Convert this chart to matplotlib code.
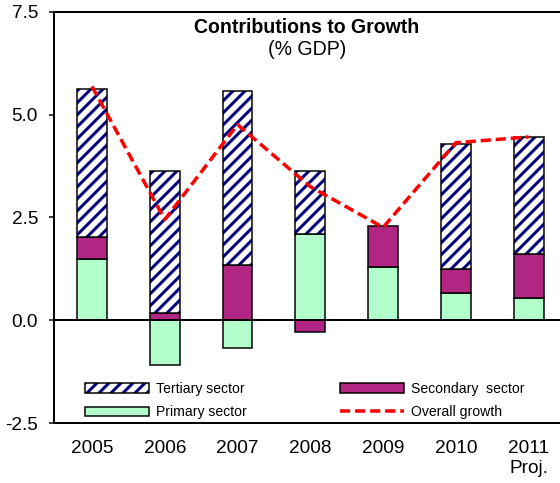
import matplotlib
matplotlib.use("Agg")
import matplotlib.pyplot as plt
import numpy as np
from matplotlib.patches import Patch
from matplotlib.lines import Line2D
from matplotlib.legend_handler import HandlerTuple

plt.rcParams['font.family'] = ['Liberation Sans', 'DejaVu Sans']
plt.rcParams['hatch.linewidth'] = 3.0

years = ["2005", "2006", "2007", "2008", "2009", "2010", "2011\nProj."]
primary = [1.48, -1.10, -0.68, 2.10, 1.30, 0.67, 0.54]
secondary = [0.54, 0.17, 1.34, -0.29, 0.99, 0.58, 1.08]
tertiary = [3.61, 3.45, 4.24, 1.52, 0.00, 3.05, 2.85]
overall = [5.69, 2.45, 4.76, 3.25, 2.26, 4.32, 4.46]
yticks = [-2.5, 0.0, 2.5, 5.0, 7.5]

c_prim = "#B3FFCB"
c_sec = "#B22683"
c_hatch = "#000080"

fig = plt.figure(figsize=(560 / 72, 483 / 72), dpi=72)
ax = fig.add_axes([54 / 560, 60 / 483, 506 / 560, 411 / 483])

x = np.arange(len(years))
w = 0.41
pos = np.zeros(len(x))
neg = np.zeros(len(x))

# primary
v = np.array(primary)
b = np.where(v >= 0, pos, neg)
ax.bar(x, v, w, bottom=b, color=c_prim, edgecolor="black", linewidth=1.5, zorder=2)
pos = pos + np.where(v >= 0, v, 0)
neg = neg + np.where(v < 0, v, 0)
# secondary
v = np.array(secondary)
b = np.where(v >= 0, pos, neg)
ax.bar(x, v, w, bottom=b, color=c_sec, edgecolor="black", linewidth=1.5, zorder=2)
pos = pos + np.where(v >= 0, v, 0)
neg = neg + np.where(v < 0, v, 0)
# tertiary
v = np.array(tertiary)
b = np.where(v >= 0, pos, neg)
mask = v != 0
ax.bar(x[mask], v[mask], w, bottom=b[mask], color="white", edgecolor=c_hatch,
       hatch="//", linewidth=0, zorder=2)
ax.bar(x[mask], v[mask], w, bottom=b[mask], fill=False, edgecolor="black",
       linewidth=1.5, zorder=2.1)

ax.plot(x, overall, color="#FF0000", lw=3.5, dashes=(2.9, 1.4), zorder=3)
ax.axhline(0, color="black", lw=2, zorder=2.5)

ax.set_xlim(-0.522, 6.43)
ax.set_ylim(-2.5, 7.5)
ax.set_yticks(yticks)
ax.set_yticklabels(["%.1f" % t for t in yticks])
ax.set_xticks(x)
ax.set_xticklabels(years)
ax.tick_params(axis="y", direction="out", length=5, width=1.5, pad=11, labelsize=19)
ax.tick_params(axis="x", length=0, pad=17, labelsize=19)
ax.spines["right"].set_visible(False)
for s in ["left", "top", "bottom"]:
    ax.spines[s].set_linewidth(2)

ax.text(0.5, (483 - 28 - 60) / 411, "Contributions to Growth", transform=ax.transAxes,
        ha="center", va="center", fontsize=19.5, fontweight="bold")
ax.text(0.5, (483 - 50 - 60) / 411, "(% GDP)", transform=ax.transAxes,
        ha="center", va="center", fontsize=19.5)

h_ter = (Patch(facecolor="white", edgecolor=c_hatch, hatch="//", linewidth=0),
         Patch(fill=False, edgecolor="black", linewidth=1.5))
h_prim = Patch(facecolor=c_prim, edgecolor="black", linewidth=1.5)
h_sec = Patch(facecolor=c_sec, edgecolor="black", linewidth=1.5)
h_ov = Line2D([], [], color="#FF0000", lw=3.5, dashes=(2.9, 1.4))
leg = ax.legend([h_ter, h_prim, h_sec, h_ov],
                ["Tertiary sector", "Primary sector", "Secondary  sector", "Overall growth"],
                handler_map={tuple: HandlerTuple(ndivide=1, pad=0)},
                ncol=2, loc="upper left",
                bbox_to_anchor=((85 - 54) / 506, (483 - 382 - 60) / 411),
                frameon=False, fontsize=14, handlelength=4.6, handleheight=0.65,
                handletextpad=0.5, columnspacing=6.6, labelspacing=0.65,
                borderpad=0, borderaxespad=0)

fig.savefig("out.png", dpi=72)
